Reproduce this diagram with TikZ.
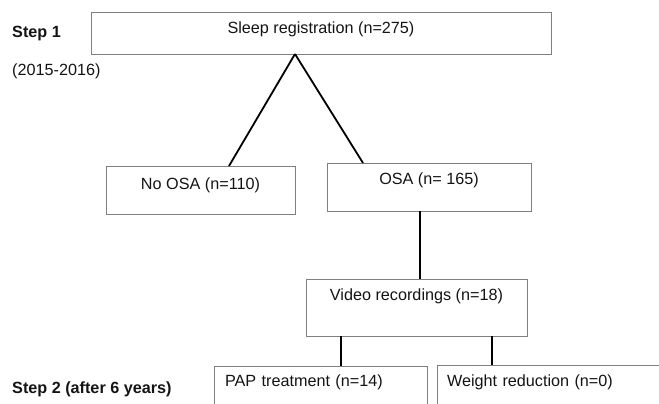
\documentclass[tikz,border=0pt]{standalone}
\usepackage{fontspec}
\setmainfont{Liberation Sans}
\usetikzlibrary{calc}

\definecolor{boxgray}{HTML}{808080}
\definecolor{txtblack}{HTML}{141414}

\begin{document}
\begin{tikzpicture}[x=1pt, y=-1pt, font=\fontsize{16.2}{19}\selectfont,
  box/.style={rectangle, draw=boxgray, line width=0.9pt, inner sep=0pt, outer sep=0pt, text=txtblack},
  leftbox/.style={box, align=left, inner xsep=#1},
  steptext/.style={anchor=base west, inner sep=0pt, text=txtblack},
  link/.style={line width=1.8pt, black}]
  \clip (0,0) rectangle (659,404);

  % Step labels
  \node (step1) [steptext, font=\fontsize{16.2}{19}\selectfont\bfseries] at (12,37.3) {Step 1};
  \node (years) [steptext] at (12,76) {(2015-2016)};
  \node (step2) [steptext, font=\fontsize{16.2}{19}\selectfont\bfseries] at (12,393) {Step 2 (after 6 years)};

  % Boxes
  \node (sleep) [box, anchor=north, minimum width=460pt, text height=21.5pt, text depth=20.5pt] at (321,12) {Sleep registration (n=275)};
  \node (noosa) [box, anchor=north, minimum width=189pt, text height=23pt, text depth=25pt] at (200.5,166) {No OSA (n=110)};
  \node (osa) [box, anchor=north, minimum width=204pt, text height=21.3pt, text depth=26.7pt] at (429,163) {OSA (n= 165)};
  \node (video) [box, anchor=north, minimum width=221pt, text height=21.7pt, text depth=35.3pt] at (416.5,279) {Video recordings (n=18)};
  \node (pap) [leftbox=11pt, anchor=north west, text width=191pt, text height=20.7pt, text depth=27.3pt] at (214,366) {PAP treatment (n=14)};
  \node (weight) [leftbox=10pt, anchor=north west, text width=230pt, text height=21pt, text depth=27pt] at (437,365) {Weight reduction (n=0)};

  % Connectors
  \draw[link] ($(sleep.south)+(-26,0)$) -- ($(noosa.north)+(28.5,0)$);
  \draw[link] ($(sleep.south)+(-26,0)$) -- ($(osa.north)+(-66,0)$);
  \draw[link] ($(osa.south)+(-9,0)$) -- ($(video.north)+(3.5,0)$);
  \draw[link] ($(video.south)+(-75.5,0)$) -- ($(pap.north)+(20.5,0)$);
  \draw[link] ($(video.south)+(75.5,0)$) -- ($(weight.north)+(-70,0)$);
\end{tikzpicture}
\end{document}
